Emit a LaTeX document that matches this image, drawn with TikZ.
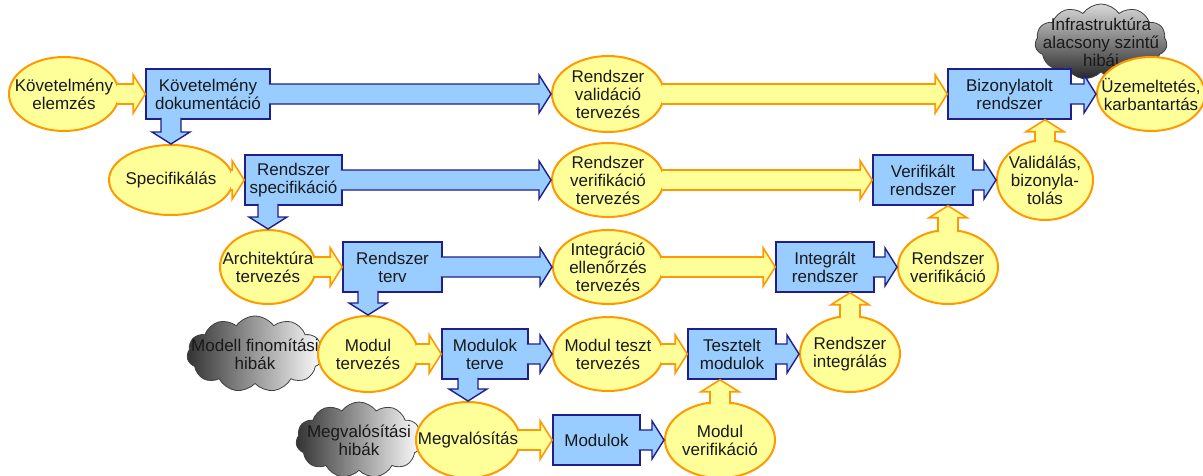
\documentclass[tikz,border=0pt]{standalone}
\usepackage{fontspec}
\setmainfont{Liberation Sans}
\usetikzlibrary{calc,shapes.geometric,shapes.symbols}
\definecolor{bfill}{RGB}{153,204,255}
\definecolor{bdraw}{RGB}{31,31,140}
\definecolor{yfill}{RGB}{255,255,153}
\definecolor{ydraw}{RGB}{255,153,0}
\definecolor{txtc}{RGB}{25,25,25}
\def\aw{10pt}\def\hw{19pt}\def\hl{12pt}
\tikzset{
 blockarrow/.style={to path={let \p1=($(\tikztotarget)!\hl!(\tikztostart)$) in
   ($(\tikztostart)!\aw!90:(\tikztotarget)$) -- ($(\p1)!\aw!-90:(\tikztostart)$)
   -- ($(\p1)!\hw!-90:(\tikztostart)$) -- (\tikztotarget)
   -- ($(\p1)!\hw!90:(\tikztostart)$) -- ($(\p1)!\aw!90:(\tikztostart)$)
   -- ($(\tikztostart)!\aw!-90:(\tikztotarget)$)}},
 ell/.style={ellipse, fill=yfill, draw=ydraw, line width=2pt, inner sep=0pt},
 box/.style={rectangle, fill=bfill, draw=bdraw, line width=1.5pt, inner sep=0pt},
 cld/.style={cloud, cloud puffs=11, cloud puff arc=110, cloud ignores aspect, draw=black!75, line width=0.8pt, inner sep=0pt, left color=black!80, right color=white},
 yarr/.style={fill=yfill, draw=ydraw, line width=1.6pt, line join=miter, blockarrow},
 barr/.style={fill=bfill, draw=bdraw, line width=1.4pt, line join=miter, blockarrow},
 every label/.style={font=\fontsize{17pt}{18pt}\selectfont, text=txtc, align=center, inner sep=0pt},
}
\begin{document}
\begin{tikzpicture}[x=1pt,y=-1pt]
\fill[white] (0,0) rectangle (1203,475);
\useasboundingbox (0,0) rectangle (1203,475);
% clouds
\node[cld, minimum width=132pt, minimum height=76pt, top color=gray!30, bottom color=black!85, label={[name=infra-t]center:{Infrastruktúra\\alacsony szintű\\hibái}}] (infra) at (1101,42) {};
\node[cld, minimum width=136pt, minimum height=76pt, label={[name=modfin-t]center:{Modell finomítási\\hibák}}] (modfin) at (255,354) {};
\node[cld, minimum width=126pt, minimum height=76pt, label={[name=megvh-t]center:{Megvalósítási\\hibák}}] (megvh) at (359,440) {};
% ellipses
\node[ell, minimum width=110pt, minimum height=74pt, label={[name=kelem-t]center:{Követelmény\\elemzés}}] (kelem) at (64,94) {};
\node[ell, minimum width=112pt, minimum height=76pt, label={[name=rval-t]center:{Rendszer\\validáció\\tervezés}}] (rval) at (608,94) {};
\node[ell, minimum width=108pt, minimum height=74pt, label={[name=uzem-t]center:{Üzemeltetés,\\karbantartás}}] (uzem) at (1151,94) {};
\node[ell, minimum width=124pt, minimum height=70pt, label={[name=spec-t]center:{Specifikálás}}] (spec) at (171,180) {};
\node[ell, minimum width=112pt, minimum height=74pt, label={[name=rver-t]center:{Rendszer\\verifikáció\\tervezés}}] (rver) at (608,180) {};
\node[ell, minimum width=96pt, minimum height=80pt, label={[name=valid-t]center:{Validálás,\\bizonyla-\\tolás}}] (valid) at (1045,180) {};
\node[ell, minimum width=96pt, minimum height=74pt, label={[name=arch-t]center:{Architektúra\\tervezés}}] (arch) at (268,267) {};
\node[ell, minimum width=110pt, minimum height=74pt, label={[name=integ-t]center:{Integráció\\ellenőrzés\\tervezés}}] (integ) at (608,267) {};
\node[ell, minimum width=100pt, minimum height=74pt, label={[name=rverif-t]center:{Rendszer\\verifikáció}}] (rverif) at (948,267) {};
\node[ell, minimum width=100pt, minimum height=76pt, label={[name=modtv-t]center:{Modul\\tervezés}}] (modtv) at (368,354) {};
\node[ell, minimum width=110pt, minimum height=74pt, label={[name=mteszt-t]center:{Modul teszt\\tervezés}}] (mteszt) at (608,354) {};
\node[ell, minimum width=100pt, minimum height=76pt, label={[name=rint-t]center:{Rendszer\\integrálás}}] (rint) at (850,354) {};
\node[ell, minimum width=104pt, minimum height=76pt, label={[name=megv-t]center:{Megvalósítás}}] (megv) at (468,440) {};
\node[ell, minimum width=110pt, minimum height=76pt, label={[name=mverif-t]center:{Modul\\verifikáció}}] (mverif) at (720,440) {};
% boxes
\node[box, minimum width=124pt, minimum height=50pt, label={[name=kdok-t]center:{Követelmény\\dokumentáció}}] (kdok) at (208,94) {};
\node[box, minimum width=123pt, minimum height=50pt, label={[name=bizr-t]center:{Bizonylatolt\\rendszer}}] (bizr) at (1009.5,94) {};
\node[box, minimum width=97pt, minimum height=50pt, label={[name=rspec-t]center:{Rendszer\\specifikáció}}] (rspec) at (293.5,180) {};
\node[box, minimum width=100pt, minimum height=50pt, label={[name=verr-t]center:{Verifikált\\rendszer}}] (verr) at (923,180) {};
\node[box, minimum width=99pt, minimum height=50pt, label={[name=rterv-t]center:{Rendszer\\terv}}] (rterv) at (392.5,267) {};
\node[box, minimum width=98pt, minimum height=50pt, label={[name=intr-t]center:{Integrált\\rendszer}}] (intr) at (825,267) {};
\node[box, minimum width=86pt, minimum height=50pt, label={[name=modt-t]center:{Modulok\\terve}}] (modt) at (485,354) {};
\node[box, minimum width=88pt, minimum height=50pt, label={[name=teszt-t]center:{Tesztelt\\modulok}}] (teszt) at (732,354) {};
\node[box, minimum width=87pt, minimum height=50pt, label={[name=modulok-t]center:{Modulok}}] (modulok) at (596.5,440) {};
% yellow arrows (ellipse -> box)
\draw[yarr] ($(kelem.east)+(-3,0)$) to (kdok.west);
\draw[yarr] ($(rval.east)+(-3,0)$) to (bizr.west);
\draw[yarr] ($(spec.east)+(-3,0)$) to (rspec.west);
\draw[yarr] ($(rver.east)+(-3,0)$) to (verr.west);
\draw[yarr] ($(arch.east)+(-3,0)$) to (rterv.west);
\draw[yarr] ($(integ.east)+(-3,0)$) to (intr.west);
\draw[yarr] ($(modtv.east)+(-3,0)$) to (modt.west);
\draw[yarr] ($(mteszt.east)+(-3,0)$) to (teszt.west);
\draw[yarr] ($(megv.east)+(-3,0)$) to (modulok.west);
% blue arrows (box -> ellipse)
\draw[barr] ($(kdok.east)+(-2,0)$) to (rval.west);
\draw[barr] ($(bizr.east)+(-2,0)$) to (uzem.west);
\draw[barr] ($(rspec.east)+(-2,0)$) to (rver.west);
\draw[barr] ($(verr.east)+(-2,0)$) to (valid.west);
\draw[barr] ($(rterv.east)+(-2,0)$) to (integ.west);
\draw[barr] ($(intr.east)+(-2,0)$) to (rverif.west);
\draw[barr] ($(modt.east)+(-2,0)$) to (mteszt.west);
\draw[barr] ($(teszt.east)+(-2,0)$) to (rint.west);
\draw[barr] ($(modulok.east)+(-2,0)$) to (mverif.west);
% down arrows
\draw[barr] ($(kdok.south -| spec.north)+(0,-2)$) to (spec.north);
\draw[barr] ($(rspec.south -| arch.north)+(0,-2)$) to (arch.north);
\draw[barr] ($(rterv.south -| modtv.north)+(0,-2)$) to (modtv.north);
\draw[barr] ($(modt.south -| megv.north)+(0,-2)$) to (megv.north);
% up arrows
\draw[yarr] ($(valid.north)+(0,3)$) to (valid.north |- bizr.south);
\draw[yarr] ($(rverif.north)+(0,3)$) to (rverif.north |- verr.south);
\draw[yarr] ($(rint.north)+(0,3)$) to (rint.north |- intr.south);
\draw[yarr] ($(mverif.north)+(0,3)$) to (mverif.north |- teszt.south);
\end{tikzpicture}
\end{document}
